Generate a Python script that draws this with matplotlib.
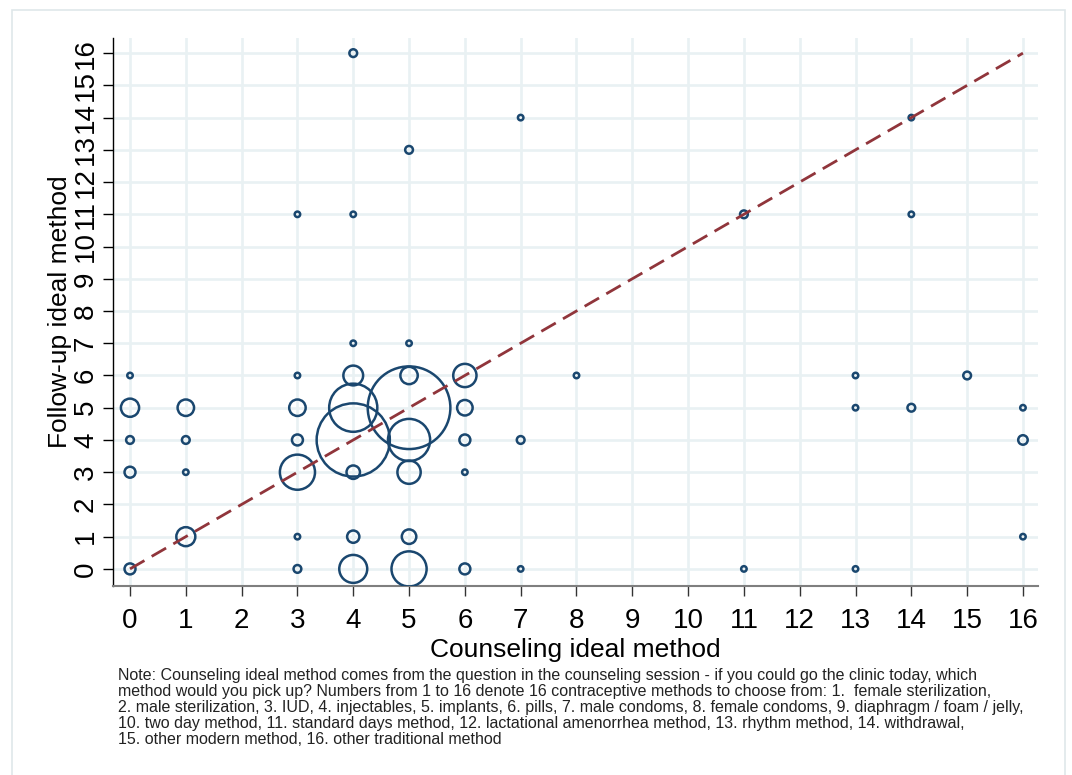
import matplotlib.pyplot as plt
from matplotlib.patches import Rectangle

plt.rcParams['font.family'] = ['Liberation Sans', 'DejaVu Sans']

# counseling method (x), follow-up method (y), number of respondents (marker weight)
counsel = [0, 0, 0, 0, 0,
           1, 1, 1, 1,
           3, 3, 3, 3, 3, 3, 3,
           4, 4, 4, 4, 4, 4, 4, 4, 4,
           5, 5, 5, 5, 5, 5, 5, 5,
           6, 6, 6, 6, 6,
           7, 7, 7,
           8,
           11, 11,
           13, 13, 13,
           14, 14, 14,
           15,
           16, 16, 16]
followup = [0, 3, 4, 5, 6,
            1, 3, 4, 5,
            0, 1, 3, 4, 5, 6, 11,
            0, 1, 3, 4, 5, 6, 7, 11, 16,
            0, 1, 3, 4, 5, 6, 7, 13,
            0, 3, 4, 5, 6,
            0, 4, 14,
            6,
            0, 11,
            0, 5, 6,
            5, 11, 14,
            6,
            1, 4, 5]
counts = [4, 4, 2, 11, 1,
          12, 1, 2, 9,
          2, 1, 41, 4, 9, 1, 1,
          26, 5, 6, 178, 77, 13, 1, 1, 2,
          41, 7, 18, 59, 227, 10, 1, 2,
          4, 1, 4, 8, 18,
          1, 2, 1,
          1,
          1, 2,
          1, 1, 1,
          2, 1, 1,
          2,
          1, 3, 1]

ticks = list(range(17))

navy = '#1a476f'
maroon = '#90353b'
gridc = '#e9f1f3'

fig = plt.figure(figsize=(10.72, 7.75), dpi=100)
ax = fig.add_axes([0.1054, 0.2443, 0.8629, 0.7071])

# light frame around the whole graph
fig.patches.append(Rectangle((12 / 1072, -0.01), 1053 / 1072, 1 - 10 / 775 + 0.01,
                             transform=fig.transFigure, fill=False,
                             edgecolor='#dfe7ea', linewidth=1.2))

# marker area proportional to the count
sizes = [15.6 * c for c in counts]
ax.scatter(counsel, followup, s=sizes, facecolors='none', edgecolors=navy,
           linewidths=1.8, zorder=3)

# 45 degree line
ax.plot([0, 16], [0, 16], color=maroon, linewidth=2.0, dashes=(6, 3), zorder=4)

ax.set_xlim(-0.305, 16.27)
ax.set_ylim(-0.52, 16.48)
ax.set_xticks(ticks)
ax.set_yticks(ticks)
ax.grid(True, color=gridc, linewidth=1.9, zorder=0)
ax.set_axisbelow(True)

ax.spines['top'].set_visible(False)
ax.spines['right'].set_visible(False)
ax.spines['left'].set_color('black')
ax.spines['left'].set_linewidth(1.0)
ax.spines['bottom'].set_color('#7f7f7f')
ax.spines['bottom'].set_linewidth(1.5)

ax.tick_params(axis='x', length=7, width=1, color='#333333', labelsize=20, pad=9)
ax.tick_params(axis='y', length=7, width=1, color='black', labelsize=20, pad=3,
               labelrotation=90)
for lab in ax.get_yticklabels():
    lab.set_va('center')

ax.set_xlabel('Counseling ideal method', fontsize=19, labelpad=3)
ax.set_ylabel('Follow-up ideal method', fontsize=19, labelpad=1)

note = ("Note: Counseling ideal method comes from the question in the counseling session - "
        "if you could go the clinic today, which\n"
        "method would you pick up? Numbers from 1 to 16 denote 16 contraceptive methods "
        "to choose from: 1.  female sterilization,\n"
        "2. male sterilization, 3. IUD, 4. injectables, 5. implants, 6. pills, 7. male condoms, "
        "8. female condoms, 9. diaphragm / foam / jelly,\n"
        "10. two day method, 11. standard days method, 12. lactational amenorrhea method, "
        "13. rhythm method, 14. withdrawal,\n"
        "15. other modern method, 16. other traditional method")
fig.text(118 / 1072, 1 - 668 / 775, note, fontsize=11.55, color='#222222',
         ha='left', va='top', linespacing=1.08)

plt.savefig('out.png', dpi=100)
